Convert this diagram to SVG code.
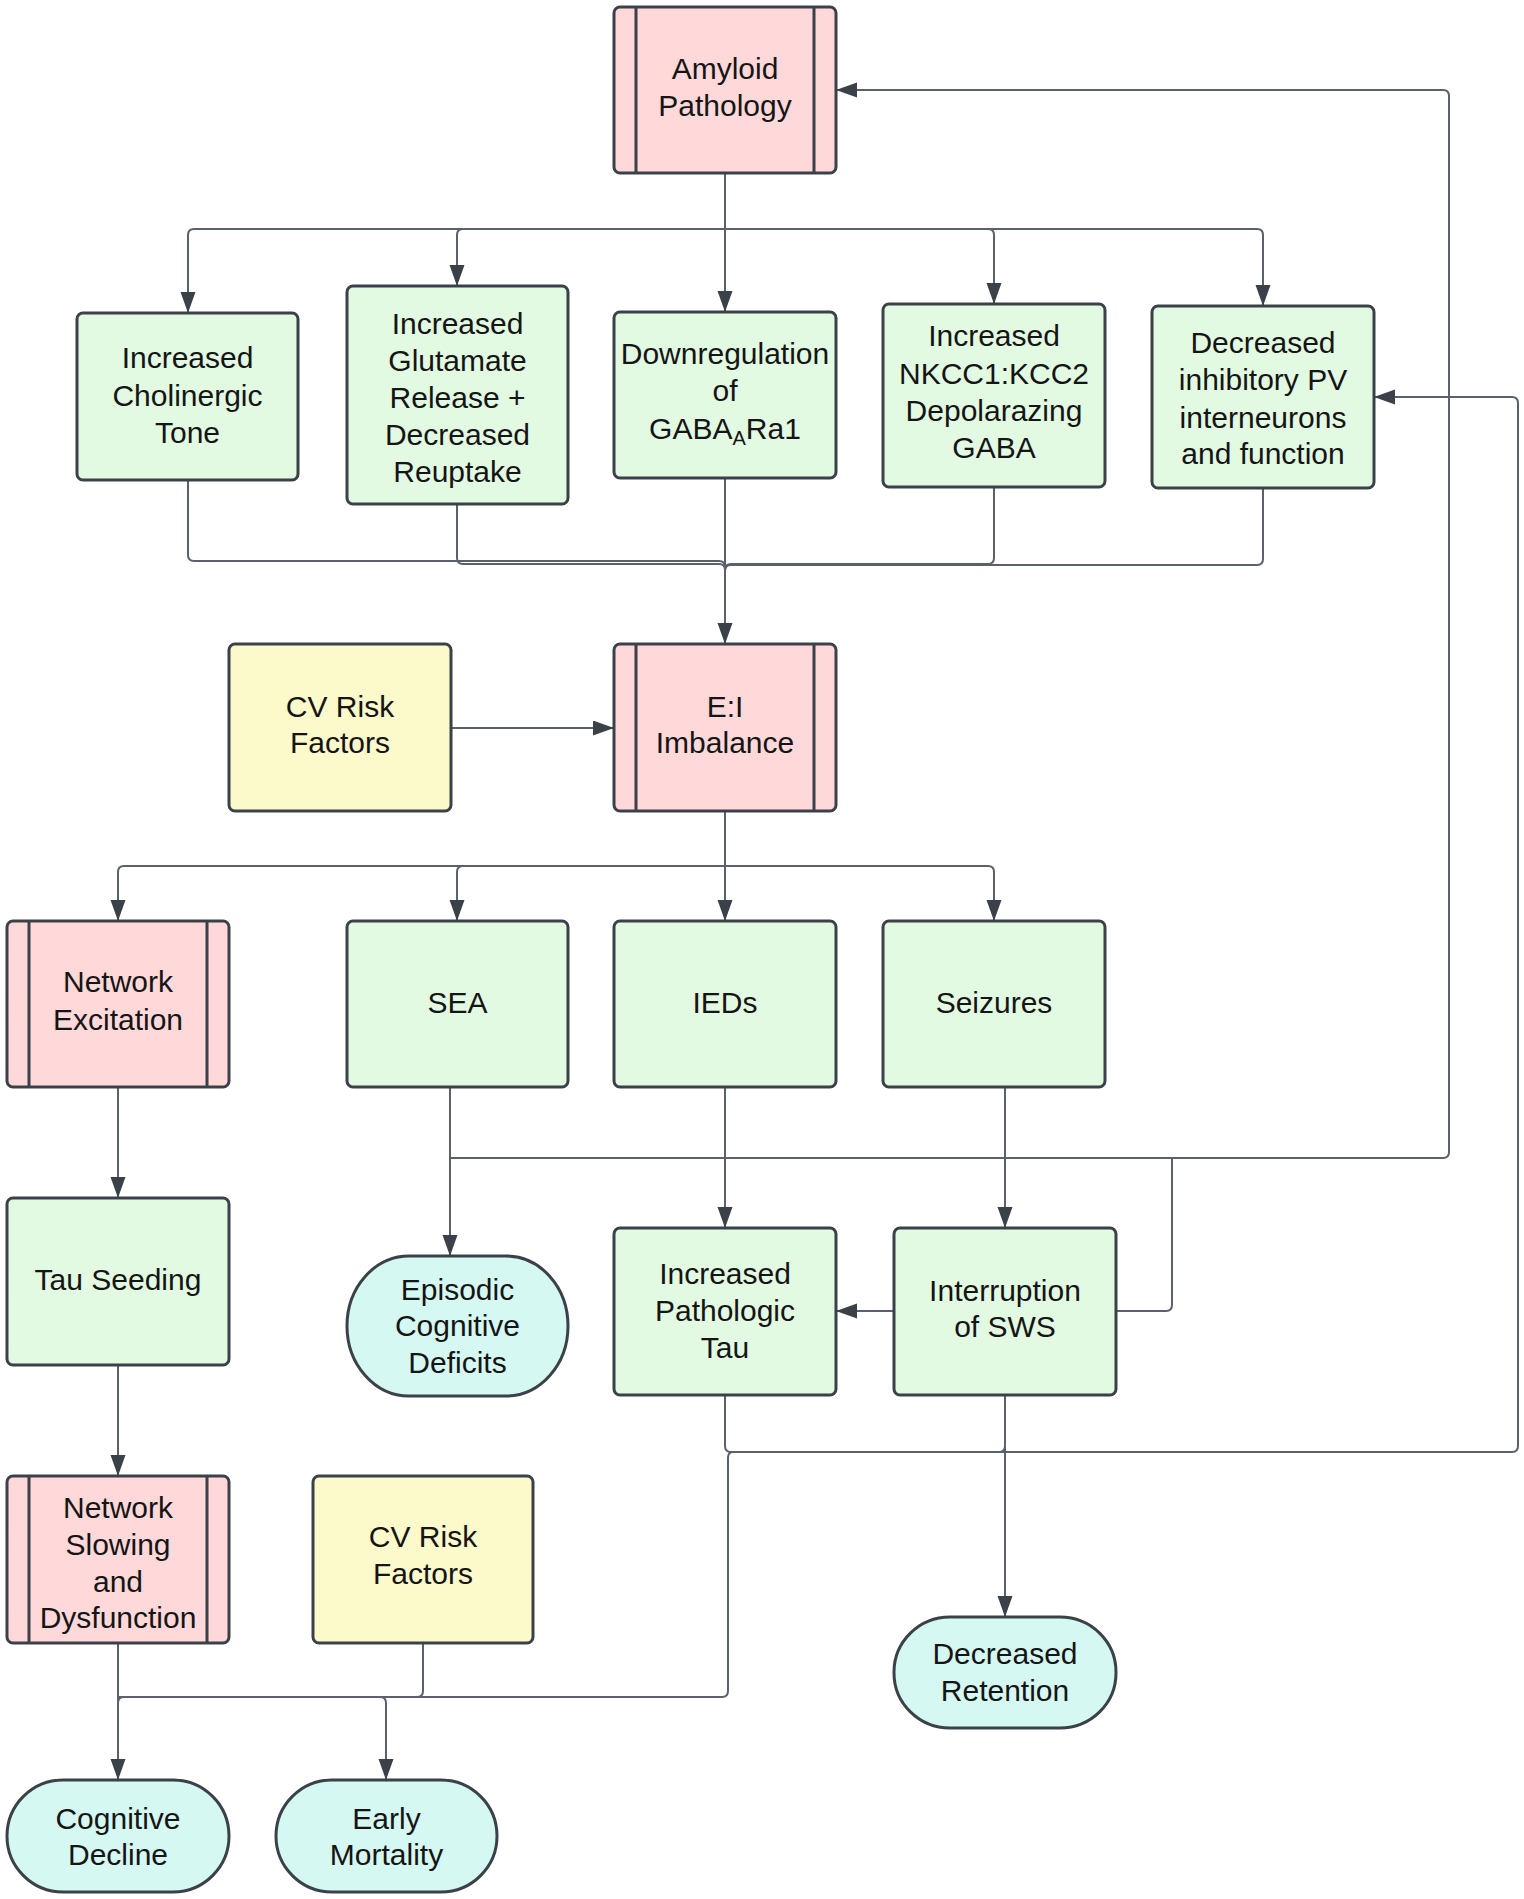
<svg xmlns="http://www.w3.org/2000/svg" width="1524" height="1899" viewBox="0 0 1524 1899">
<style>
.n{stroke:#3b4149;stroke-width:3}
.pink{fill:#ffd8d9}
.green{fill:#e2f9e2}
.yellow{fill:#fcf9cb}
.cyan{fill:#d5f8f2}
.bar{stroke:#3b4149;stroke-width:3;fill:none}
text{font-family:"Liberation Sans",Arial,sans-serif;font-size:30px;fill:#151515;text-anchor:middle}
.c path{fill:none;stroke:#5a616b;stroke-width:2;stroke-linejoin:round}
.c path.a{marker-end:url(#ah)}
</style>
<defs>
<marker id="ah" markerUnits="userSpaceOnUse" markerWidth="24" markerHeight="18" refX="21" refY="7.5" orient="auto" viewBox="0 0 24 18">
<path d="M0,0 L21,7.5 L0,15 z" fill="#3b4149"/>
</marker>
</defs>
<rect width="1524" height="1899" fill="#ffffff"/>

<g class="c" id="connectors">
<!-- Amyloid to row 1 -->
<path d="M725,173 V229"/>
<path class="a" d="M725,229 H194 Q188,229 188,235 V313"/>
<path class="a" d="M725,229 H463 Q457,229 457,235 V286"/>
<path class="a" d="M725,229 V312"/>
<path class="a" d="M725,229 H988 Q994,229 994,235 V304"/>
<path class="a" d="M725,229 H1257 Q1263,229 1263,235 V306"/>
<!-- row 1 to E:I -->
<path d="M188,480 V555 Q188,561 194,561 H719 Q725,561 725,567"/>
<path d="M457,504 V558 Q457,564 463,564 H719 Q725,564 725,570"/>
<path d="M994,487 V558 Q994,564 988,564 H731 Q725,564 725,570"/>
<path d="M1263,488 V559 Q1263,565 1257,565 H731 Q725,565 725,571"/>
<path class="a" d="M725,478 V644"/>
<!-- CV risk to E:I -->
<path class="a" d="M451,728 H614"/>
<!-- E:I to row 3 -->
<path d="M725,811 V866"/>
<path class="a" d="M725,866 H124 Q118,866 118,872 V921"/>
<path class="a" d="M725,866 H463 Q457,866 457,872 V921"/>
<path class="a" d="M725,866 V921"/>
<path class="a" d="M725,866 H988 Q994,866 994,872 V921"/>
<!-- left column -->
<path class="a" d="M118,1087 V1198"/>
<path class="a" d="M118,1365 V1476"/>
<!-- row 3 down -->
<path class="a" d="M450,1087 V1256"/>
<path class="a" d="M725,1087 V1228"/>
<path class="a" d="M1005,1087 V1228"/>
<path class="a" d="M450,1158 H1443 Q1449,1158 1449,1152 V96 Q1449,90 1443,90 H836"/>
<path d="M1116,1311 H1166 Q1172,1311 1172,1305 V1158"/>
<path class="a" d="M894,1311 H836"/>
<!-- bottom connectors -->
<path class="a" d="M725,1395 V1446 Q725,1452 731,1452 H1512 Q1518,1452 1518,1446 V403 Q1518,397 1512,397 H1374"/>
<path class="a" d="M1005,1395 V1617"/>
<path d="M1005,1446 Q1005,1452 999,1452"/>
<path d="M733,1452 Q728,1452 728,1458 V1691 Q728,1697 722,1697 H124 Q118,1697 118,1703"/>
<path class="a" d="M118,1643 V1780"/>
<path d="M423,1643 V1691 Q423,1697 417,1697"/>
<path class="a" d="M118,1697 H380 Q386,1697 386,1703 V1780"/>
</g>

<g id="amyloid">
<rect class="n pink" x="614" y="7" width="222" height="166" rx="6"/>
<path class="bar" d="M636,7 V173 M814,7 V173"/>
<text x="725" y="79">Amyloid</text>
<text x="725" y="116">Pathology</text>
</g>

<g id="cholinergic">
<rect class="n green" x="77" y="313" width="221" height="167" rx="6"/>
<text x="187.5" y="368">Increased</text>
<text x="187.5" y="406">Cholinergic</text>
<text x="187.5" y="443">Tone</text>
</g>

<g id="glutamate">
<rect class="n green" x="347" y="286" width="221" height="218" rx="6"/>
<text x="457.5" y="334">Increased</text>
<text x="457.5" y="371">Glutamate</text>
<text x="457.5" y="408">Release +</text>
<text x="457.5" y="445">Decreased</text>
<text x="457.5" y="482">Reuptake</text>
</g>

<g id="gaba">
<rect class="n green" x="614" y="312" width="222" height="166" rx="6"/>
<text x="725" y="364">Downregulation</text>
<text x="725" y="401">of</text>
<text x="725" y="439">GABA<tspan font-size="20" dy="6">A</tspan><tspan dy="-6">Ra1</tspan></text>
</g>

<g id="nkcc1">
<rect class="n green" x="883" y="304" width="222" height="183" rx="6"/>
<text x="994" y="346">Increased</text>
<text x="994" y="384">NKCC1:KCC2</text>
<text x="994" y="421">Depolarazing</text>
<text x="994" y="458">GABA</text>
</g>

<g id="pv">
<rect class="n green" x="1152" y="306" width="222" height="182" rx="6"/>
<text x="1263" y="353">Decreased</text>
<text x="1263" y="390">inhibitory PV</text>
<text x="1263" y="428">interneurons</text>
<text x="1263" y="464">and function</text>
</g>

<g id="cvrisk1">
<rect class="n yellow" x="229" y="644" width="222" height="167" rx="6"/>
<text x="340" y="717">CV Risk</text>
<text x="340" y="753">Factors</text>
</g>

<g id="ei">
<rect class="n pink" x="614" y="644" width="222" height="167" rx="6"/>
<path class="bar" d="M636,644 V811 M814,644 V811"/>
<text x="725" y="717">E:I</text>
<text x="725" y="753">Imbalance</text>
</g>

<g id="netexc">
<rect class="n pink" x="7" y="921" width="222" height="166" rx="6"/>
<path class="bar" d="M29,921 V1087 M207,921 V1087"/>
<text x="118" y="992">Network</text>
<text x="118" y="1030">Excitation</text>
</g>

<g id="sea">
<rect class="n green" x="347" y="921" width="221" height="166" rx="6"/>
<text x="457.5" y="1013">SEA</text>
</g>

<g id="ieds">
<rect class="n green" x="614" y="921" width="222" height="166" rx="6"/>
<text x="725" y="1013">IEDs</text>
</g>

<g id="seizures">
<rect class="n green" x="883" y="921" width="222" height="166" rx="6"/>
<text x="994" y="1013">Seizures</text>
</g>

<g id="tauseeding">
<rect class="n green" x="7" y="1198" width="222" height="167" rx="6"/>
<text x="118" y="1290">Tau Seeding</text>
</g>

<g id="episodic">
<rect class="n cyan" x="347" y="1256" width="221" height="140" rx="62" ry="70"/>
<text x="457.5" y="1300">Episodic</text>
<text x="457.5" y="1336">Cognitive</text>
<text x="457.5" y="1373">Deficits</text>
</g>

<g id="pathtau">
<rect class="n green" x="614" y="1228" width="222" height="167" rx="6"/>
<text x="725" y="1284">Increased</text>
<text x="725" y="1321">Pathologic</text>
<text x="725" y="1358">Tau</text>
</g>

<g id="sws">
<rect class="n green" x="894" y="1228" width="222" height="167" rx="6"/>
<text x="1005" y="1301">Interruption</text>
<text x="1005" y="1337">of SWS</text>
</g>

<g id="netslow">
<rect class="n pink" x="7" y="1476" width="222" height="167" rx="6"/>
<path class="bar" d="M29,1476 V1643 M207,1476 V1643"/>
<text x="118" y="1518">Network</text>
<text x="118" y="1555">Slowing</text>
<text x="118" y="1592">and</text>
<text x="118" y="1628">Dysfunction</text>
</g>

<g id="cvrisk2">
<rect class="n yellow" x="313" y="1476" width="220" height="167" rx="6"/>
<text x="423" y="1547">CV Risk</text>
<text x="423" y="1584">Factors</text>
</g>

<g id="retention">
<rect class="n cyan" x="894" y="1617" width="222" height="111" rx="56" ry="55"/>
<text x="1005" y="1664">Decreased</text>
<text x="1005" y="1701">Retention</text>
</g>

<g id="cogdecline">
<rect class="n cyan" x="7" y="1780" width="222" height="112" rx="56" ry="56"/>
<text x="118" y="1829">Cognitive</text>
<text x="118" y="1865">Decline</text>
</g>

<g id="mortality">
<rect class="n cyan" x="276" y="1780" width="221" height="112" rx="56" ry="56"/>
<text x="386.5" y="1829">Early</text>
<text x="386.5" y="1865">Mortality</text>
</g>
</svg>
